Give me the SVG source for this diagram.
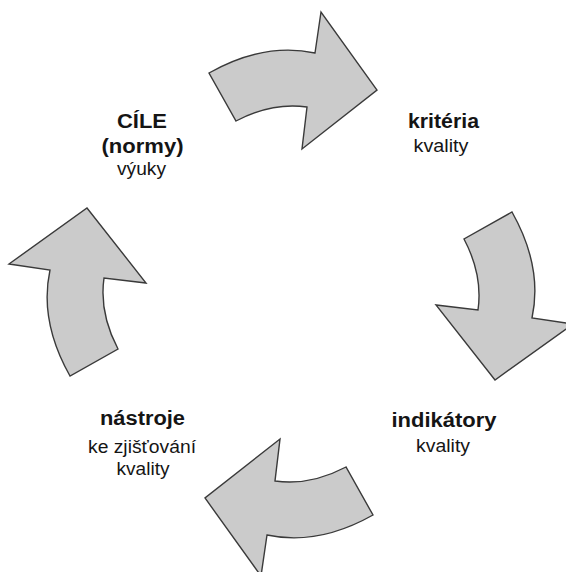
<svg xmlns="http://www.w3.org/2000/svg" xmlns:xlink="http://www.w3.org/1999/xlink" width="566" height="572" viewBox="0 0 566 572">
  <style>
    .arrow { fill: #cbcbcb; stroke: #3a3a3a; stroke-width: 1.4; stroke-linejoin: miter; }
    .b { font-family: "Liberation Sans", Arial, sans-serif; font-weight: bold; font-size: 20px; fill: #151515; text-anchor: middle; }
    .r { font-family: "Liberation Sans", Arial, sans-serif; font-size: 17.5px; fill: #151515; text-anchor: middle; }
  </style>
  <defs>
    <path id="arr" d="M209,73 Q264,42 315,53 L321,12 L377,90 L302,149 L307,107 Q272,102 236,121 Z"/>
  </defs>
  <rect width="566" height="572" fill="#ffffff"/>
  <g id="connectors">
    <use xlink:href="#arr" href="#arr" class="arrow"/>
    <use xlink:href="#arr" href="#arr" class="arrow" transform="rotate(90 291 294)"/>
    <use xlink:href="#arr" href="#arr" class="arrow" transform="rotate(180 291 294)"/>
    <use xlink:href="#arr" href="#arr" class="arrow" transform="rotate(270 291 294)"/>
  </g>
  <g id="cile">
    <text class="b" x="142" y="128" textLength="50" lengthAdjust="spacingAndGlyphs">CÍLE</text>
    <text class="b" x="142.5" y="153" textLength="82" lengthAdjust="spacingAndGlyphs">(normy)</text>
    <text class="r" x="141.5" y="175" textLength="49" lengthAdjust="spacingAndGlyphs">výuky</text>
  </g>
  <g id="kriteria">
    <text class="b" x="443.5" y="128" textLength="71" lengthAdjust="spacingAndGlyphs">kritéria</text>
    <text class="r" x="441" y="152" textLength="55" lengthAdjust="spacingAndGlyphs">kvality</text>
  </g>
  <g id="indikatory">
    <text class="b" x="444" y="427" textLength="105" lengthAdjust="spacingAndGlyphs">indikátory</text>
    <text class="r" x="443" y="452" textLength="54" lengthAdjust="spacingAndGlyphs">kvality</text>
  </g>
  <g id="nastroje">
    <text class="b" x="142.5" y="425" textLength="85" lengthAdjust="spacingAndGlyphs">nástroje</text>
    <text class="r" x="142" y="453" textLength="108" lengthAdjust="spacingAndGlyphs">ke zjišťování</text>
    <text class="r" x="143" y="475" textLength="53" lengthAdjust="spacingAndGlyphs">kvality</text>
  </g>
</svg>
